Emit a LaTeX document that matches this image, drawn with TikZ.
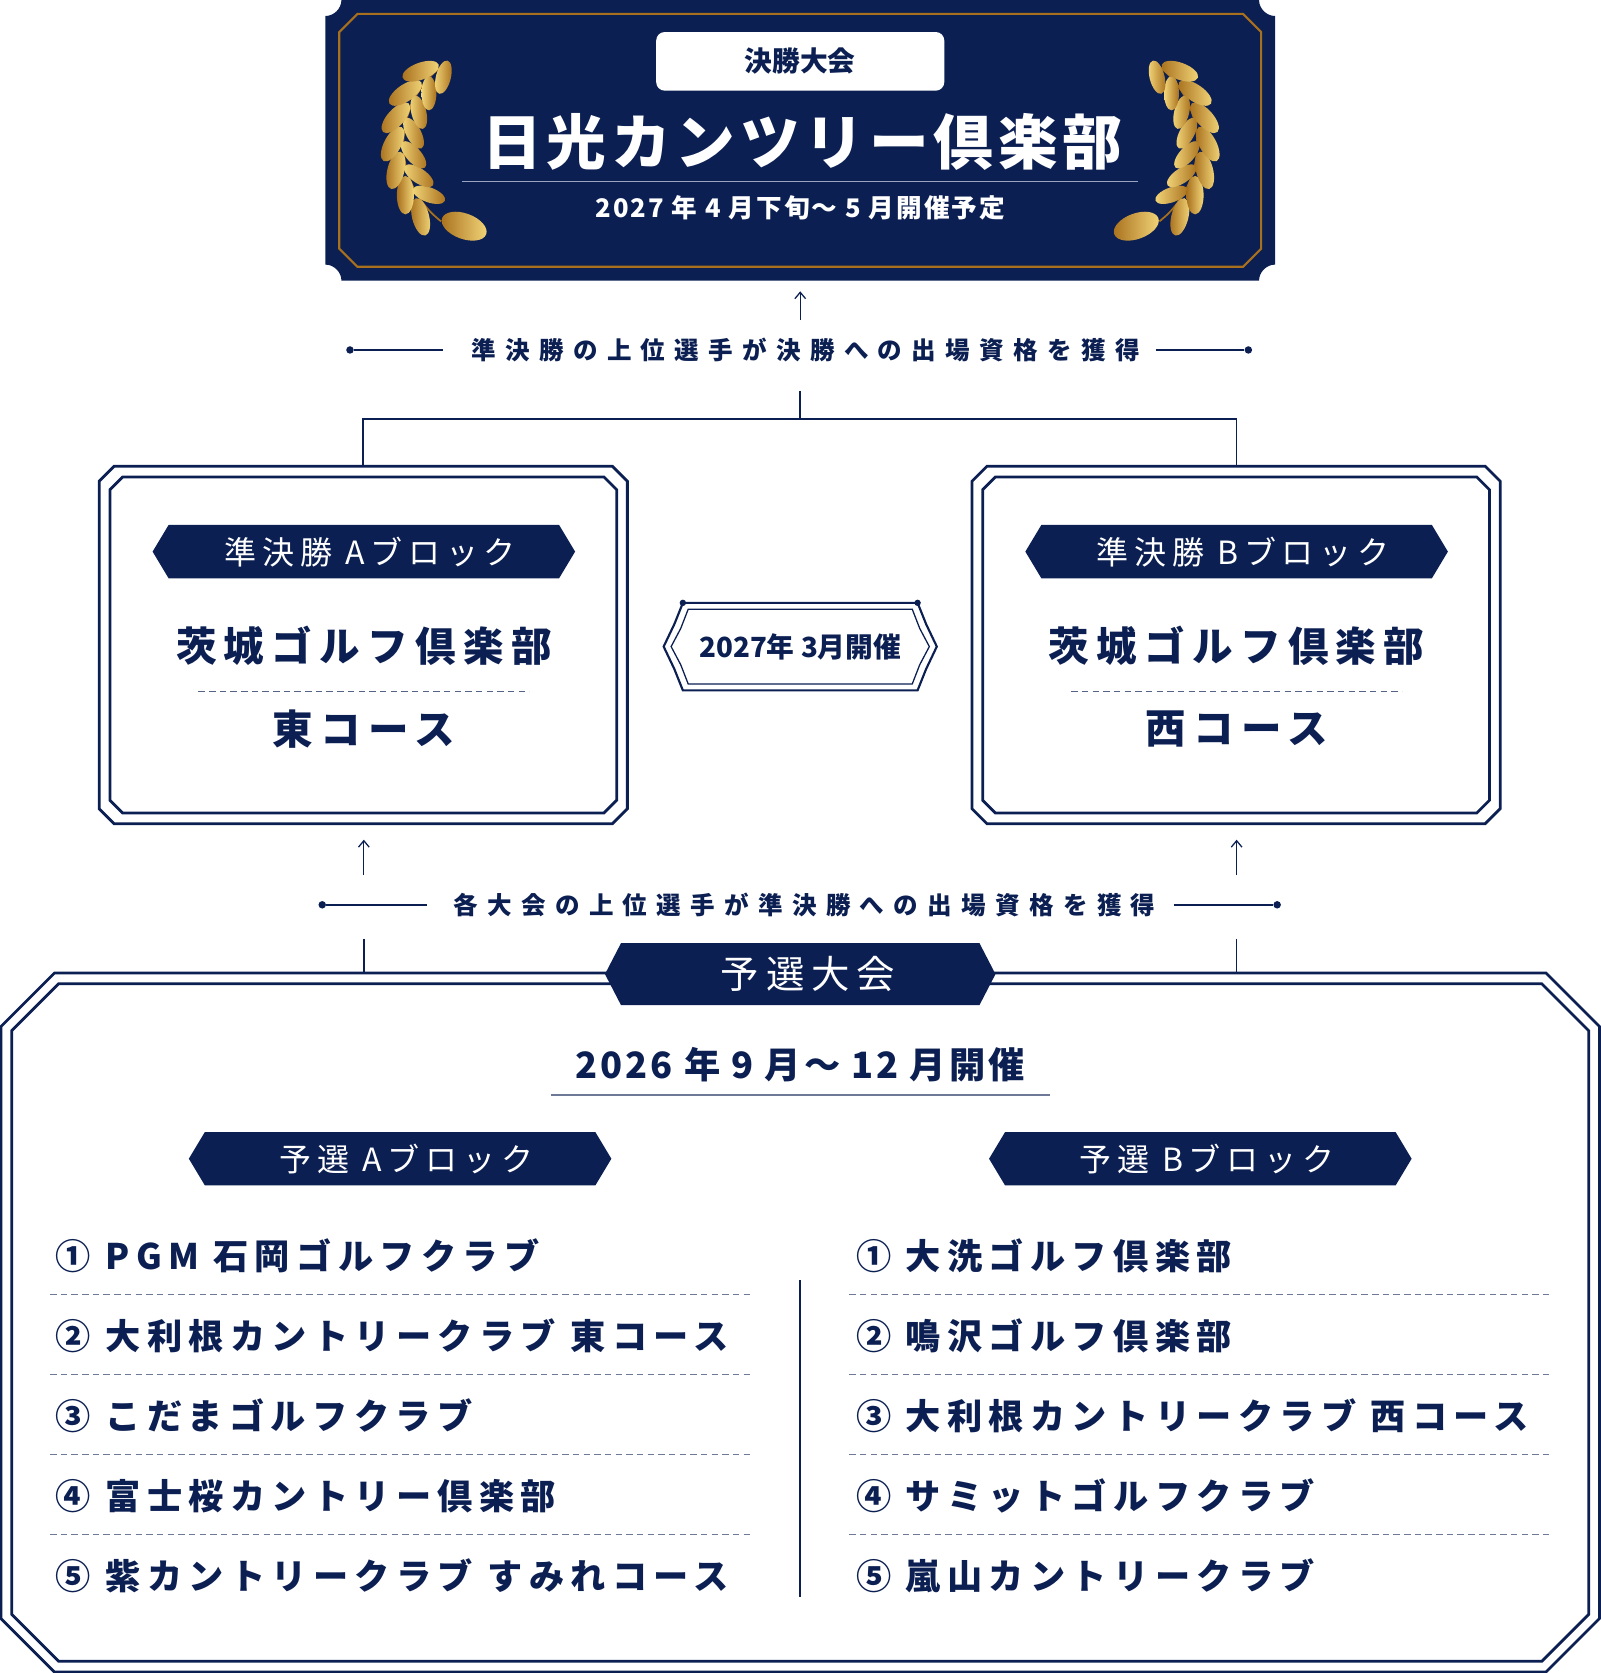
\documentclass[tikz,border=0pt]{standalone}
\usepackage{fontspec}
\setmainfont{Noto Sans CJK JP}
\newfontfamily\jp[LetterSpace=18]{Noto Sans CJK JP}
\newfontfamily\jpw[LetterSpace=38]{Noto Sans CJK JP}
\newfontfamily\jpt[LetterSpace=8]{Noto Sans CJK JP}
\newfontfamily\jpn{Noto Sans CJK JP}
\usetikzlibrary{arrows.meta}
\definecolor{navy}{HTML}{0B1F52}
\definecolor{gold1}{HTML}{F3D77A}
\definecolor{gold2}{HTML}{A86F1C}
\definecolor{gline}{HTML}{9AA6C0}
\newcommand\fz[1]{\fontsize{\dimexpr#1pt/2\relax}{\dimexpr#1pt/2\relax}\selectfont}
\newcommand\hexlab[4]{\fill[navy] (#1,{(#3+#4)/2}) -- ({#1+15},#3) -- ({#2-15},#3) -- (#2,{(#3+#4)/2}) -- ({#2-15},#4) -- ({#1+15},#4) -- cycle;}
\newcommand\cbox[5]{\draw[navy,line width=1.3pt] ({#1+#5},#2) -- ({#3-#5},#2) -- (#3,{#2+#5}) -- (#3,{#4-#5}) -- ({#3-#5},#4) -- ({#1+#5},#4) -- (#1,{#4-#5}) -- (#1,{#2+#5}) -- cycle;}
\tikzset{
  conn/.style={navy,line width=0.8pt},
  upar/.style={navy,line width=0.6pt,-{Straight Barb[length=3pt,width=5pt]}},
  dot/.style={circle,fill=navy,inner sep=0pt,minimum size=3.5pt},
  txt/.style={text=navy,inner sep=0pt},
}
\begin{document}
\begin{tikzpicture}[x=0.5pt,y=-0.5pt]
\useasboundingbox (0,0) rectangle (1500,1568);
% ===== top banner
\fill[navy] (320,0) -- (1180,0) .. controls (1180,8) and (1187,15) .. (1195,15) -- (1195,248) .. controls (1187,248) and (1180,255) .. (1180,263) -- (320,263) .. controls (320,255) and (313,248) .. (305,248) -- (305,15) .. controls (313,15) and (320,8) .. (320,0) -- cycle;
\draw[gold2,line width=1pt] (335,13) -- (1165,13) -- (1182,30) -- (1182,233) -- (1165,250) -- (335,250) -- (318,233) -- (318,30) -- cycle;
% laurels
\foreach \s/\cx in {1/470,-1/1030}{
  \draw[gold2,line width=0.8pt] plot[domain=128:232,smooth,samples=20] ({\cx+\s*92*cos(\x)},{135+92*sin(\x)});
  \foreach \a in {138,152,...,222}{
    \shade[left color=gold2,right color=gold1] ({\cx+\s*(92+10)*cos(\a)},{135+(92+10)*sin(\a)}) ellipse[x radius=4pt,y radius=9pt,rotate={-\s*\a-\s*28}];
    \shade[left color=gold1,right color=gold2] ({\cx+\s*(92-9)*cos(\a+7)},{135+(92-9)*sin(\a+7)}) ellipse[x radius=3.5pt,y radius=8pt,rotate={-\s*\a+\s*28}];
  }
  \shade[left color=gold2,right color=gold1] ({\cx+\s*(-35)},212) ellipse[x radius=11pt,y radius=6pt,rotate={-\s*20}];
}
\fill[white,rounded corners=4pt] (615,30) rectangle (885,85);
\node[txt] (final) at (750,57) {\jpn\fz{26}\bfseries 決勝大会};
\node[text=white,inner sep=0pt] (title) at (752,133) {\jpt\fz{56}\bfseries 日光カンツリー倶楽部};
\draw[gline,line width=0.8pt] (433,170) -- (1067,170);
\node[text=white,inner sep=0pt] (fdate) at (750,195) {\jpt\fz{24}\bfseries 2027 年 4 月下旬～ 5 月開催予定};
% ===== connector to final
\coordinate (ftop) at (750,273);
\coordinate (fbot) at (750,300);
\draw[upar] (fbot) -- (ftop);
\node[dot] (d1) at (328,328) {};
\node[dot] (d2) at (1170,328) {};
\node[txt] (q1) at (755,328) {\jpw\fz{23}\bfseries 準決勝の上位選手が決勝への出場資格を獲得};
\draw[conn] (d1) -- (415,328);
\draw[conn] (1083,328) -- (d2);
\coordinate (m1) at (750,366);
\coordinate (m2) at (750,393);
\draw[conn] (m1) -- (m2);
\draw[conn] (340,437) -- (340,393) -- (1159,393) -- (1159,437);
% ===== semifinal boxes
\foreach \x/\l/\c in {93/A/東,911/B/西}{
  \cbox{\x}{437}{\x+495}{772}{14}
  \cbox{\x+10}{447}{\x+485}{762}{12}
  \hexlab{\x+50}{\x+446}{492}{542}
  \node[text=white,inner sep=0pt] at (\x+248,517) {\jp\fz{30} 準決勝 \l ブロック};
  \node[txt] at (\x+248,605) {\jp\fz{38}\bfseries 茨城ゴルフ倶楽部};
  \draw[navy!70,dash pattern=on 3pt off 2pt,line width=0.5pt] (\x+93,648) -- (\x+403,648);
  \node[txt] at (\x+248,683) {\jp\fz{38}\bfseries \c コース};
}
% center badge
\draw[navy,line width=1pt] (640,565) -- (860,565) -- (868,585) -- (878,606) -- (868,627) -- (860,647) -- (640,647) -- (632,627) -- (622,606) -- (632,585) -- cycle;
\draw[navy,line width=0.6pt] (645,571) -- (855,571) -- (862,589) -- (871,606) -- (862,623) -- (855,641) -- (645,641) -- (638,623) -- (629,606) -- (638,589) -- cycle;
\node[dot,minimum size=3pt] at (640,565) {};
\node[dot,minimum size=3pt] at (860,565) {};
\node[txt] (sdate) at (750,606) {\jpn\fz{26}\bfseries 2027年 3月開催};
% ===== connector to semifinal
\draw[upar] (341,820) -- (341,787);
\draw[upar] (1159,820) -- (1159,787);
\node[dot] (d3) at (302,848) {};
\node[dot] (d4) at (1197,848) {};
\node[txt] (q2) at (754,848) {\jpw\fz{23}\bfseries 各大会の上位選手が準決勝への出場資格を獲得};
\draw[conn] (d3) -- (400,848);
\draw[conn] (1100,848) -- (d4);
\draw[conn] (341,880) -- (341,912);
\draw[conn] (1159,880) -- (1159,912);
% ===== qualifying box
\fill[white] (0,912) rectangle (1500,1568);
\cbox{1}{912}{1499}{1567}{50}
\cbox{11}{922}{1489}{1557}{44}
\hexlab{567}{933}{884}{942}
\node[text=white,inner sep=0pt] (qual) at (750,913) {\jp\fz{36} 予選大会};
\node[txt] (qdate) at (750,998) {\jpt\fz{34}\bfseries 2026 年 9 月～ 12 月開催};
\draw[navy!60,line width=0.9pt] (516,1026) -- (984,1026);
\hexlab{177}{573}{1061}{1111}
\node[text=white,inner sep=0pt] at (375,1086) {\jp\fz{30} 予選 Aブロック};
\hexlab{927}{1323}{1061}{1111}
\node[text=white,inner sep=0pt] at (1125,1086) {\jp\fz{30} 予選 Bブロック};
\draw[conn] (750,1200) -- (750,1497);
\foreach \y in {1213,1288,1363,1438}{
  \draw[navy!60,dash pattern=on 3pt off 2pt,line width=0.5pt] (47,\y) -- (705,\y);
  \draw[navy!60,dash pattern=on 3pt off 2pt,line width=0.5pt] (796,\y) -- (1453,\y);
}
\foreach \y/\t in {1177/① PGM 石岡ゴルフクラブ,1252/② 大利根カントリークラブ 東コース,1327/③ こだまゴルフクラブ,1402/④ 富士桜カントリー倶楽部,1477/⑤ 紫カントリークラブ すみれコース}{
  \node[txt,anchor=west] at (52,\y) {\jp\fz{33}\bfseries \t};
}
\foreach \y/\t in {1177/① 大洗ゴルフ倶楽部,1252/② 鳴沢ゴルフ倶楽部,1327/③ 大利根カントリークラブ 西コース,1402/④ サミットゴルフクラブ,1477/⑤ 嵐山カントリークラブ}{
  \node[txt,anchor=west] at (802,\y) {\jp\fz{33}\bfseries \t};
}
\end{tikzpicture}
\end{document}
